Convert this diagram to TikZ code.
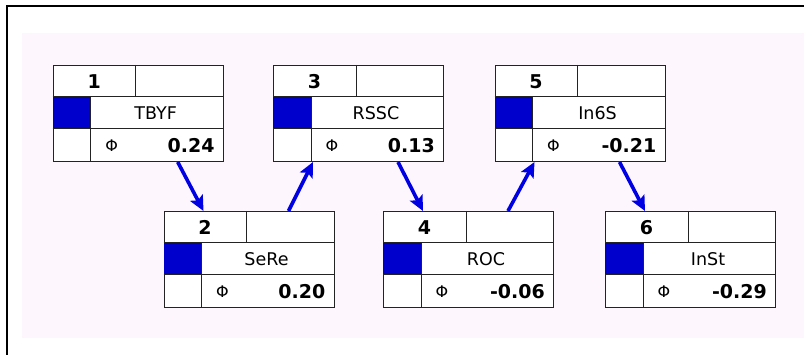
\documentclass[tikz,border=0pt]{standalone}
\usepackage{fontspec}
\setmainfont{DejaVu Sans}
\usetikzlibrary{arrows.meta,calc}

\definecolor{panel}{RGB}{253,247,253}
\definecolor{nodeblue}{RGB}{0,0,204}
\definecolor{linkblue}{RGB}{0,0,228}
\definecolor{gridline}{RGB}{35,35,35}

\tikzset{
  x=1pt, y=-1pt,
  nodebox/.style={draw=gridline, fill=white, line width=1pt, rectangle,
    minimum width=170pt, minimum height=96pt, inner sep=0pt, anchor=north west},
  cellrule/.style={draw=gridline, line width=1pt},
  idx/.style={font=\fontsize{19}{20}\selectfont\bfseries, inner sep=0pt},
  lbl/.style={font=\fontsize{17.5}{20}\selectfont, inner sep=0pt},
  phi/.style={font=\fontsize{16}{17}\selectfont, inner sep=0pt},
  val/.style={font=\fontsize{19}{20}\selectfont\bfseries, inner sep=0pt, anchor=east},
  link/.style={draw=linkblue, line width=3.6pt,
    -{Stealth[length=15pt,width=14pt,inset=3pt]}},
}

% one network node: name, left x, top y, index, label, value
\newcommand\netnode[6]{%
  \node[nodebox] (#1) at (#2,#3) {};
  \fill[nodeblue] ($(#1.north west)+(0,32)$) rectangle ($(#1.north west)+(38,64)$);
  \draw[cellrule] ($(#1.north west)+(0,32)$) -- ($(#1.north east)+(0,32)$);
  \draw[cellrule] ($(#1.north west)+(0,64)$) -- ($(#1.north east)+(0,64)$);
  \draw[cellrule] ($(#1.north west)+(83,0)$) -- ($(#1.north west)+(83,32)$);
  \draw[cellrule] ($(#1.north west)+(38,32)$) -- ($(#1.south west)+(38,0)$);
  \node[idx] (#1-idx) at ($(#1.north west)+(41.5,16.5)$) {#4};
  \node[lbl] (#1-lbl) at ($(#1.north west)+(103,48.5)$) {#5};
  \node[phi] (#1-phi) at ($(#1.north west)+(59,80.5)$) {Φ};
  \node[val] (#1-val) at ($(#1.north west)+(162,80.5)$) {#6};
  \coordinate (#1-bl) at ($(#1.south west)+(40,0)$);
  \coordinate (#1-br) at ($(#1.south west)+(125,0)$);
  \coordinate (#1-tl) at ($(#1.north west)+(40,0)$);
  \coordinate (#1-tr) at ($(#1.north west)+(125,0)$);
}

\begin{document}
\begin{tikzpicture}
  \useasboundingbox (0,0) rectangle (812,355);
  % window frame and panel
  \fill[panel] (22,33) rectangle (804,338);
  \draw[line width=2pt, line cap=rect] (7,355) -- (7,6) -- (803,6);

  % nodes
  \netnode{b1}{52.7}{65}{1}{TBYF}{0.24}
  \netnode{b3}{273}{65}{3}{RSSC}{0.13}
  \netnode{b5}{494.5}{65}{5}{In6S}{-0.21}
  \netnode{b2}{163.5}{211}{2}{SeRe}{0.20}
  \netnode{b4}{383}{211}{4}{ROC}{-0.06}
  \netnode{b6}{605}{211}{6}{InSt}{-0.29}

  % links
  \draw[link] (b1-br) -- (b2-tl);
  \draw[link] (b2-tr) -- (b3-bl);
  \draw[link] (b3-br) -- (b4-tl);
  \draw[link] (b4-tr) -- (b5-bl);
  \draw[link] (b5-br) -- (b6-tl);
\end{tikzpicture}
\end{document}
